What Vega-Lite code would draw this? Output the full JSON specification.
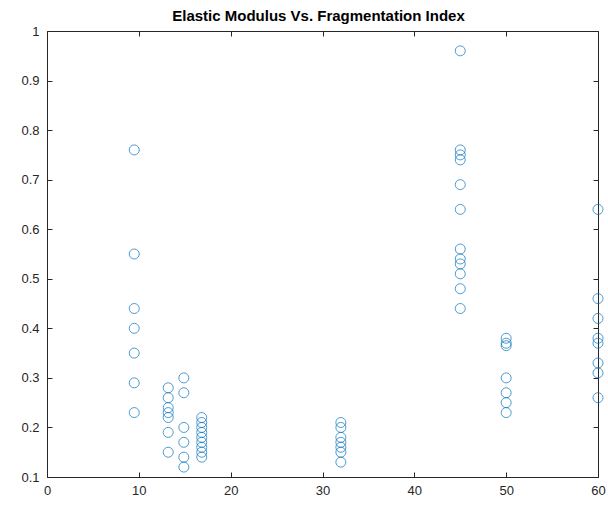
{
  "$schema": "https://vega.github.io/schema/vega-lite/v6.json",
  "autosize": {"type": "none"},
  "width": 551,
  "height": 446,
  "padding": {"left": 47, "top": 31, "right": 10, "bottom": 30},
  "background": "white",
  "title": {
    "text": "Elastic Modulus Vs. Fragmentation Index",
    "font": "Liberation Sans",
    "fontSize": 15,
    "fontWeight": "bold",
    "color": "#000000",
    "anchor": "middle",
    "offset": 1,
    "dx": -4
  },
  "config": {
    "view": {"stroke": null},
    "axis": {
      "domainColor": "#262626",
      "tickColor": "#262626",
      "labelColor": "#262626",
      "labelFont": "Liberation Sans",
      "labelFontSize": 13,
      "labelFlush": false,
      "grid": false,
      "title": null,
      "tickSize": -5,
      "domainWidth": 1,
      "tickWidth": 1
    }
  },
  "data": {
    "values": [
      {"fi": 9.5, "em": 0.76}, {"fi": 9.5, "em": 0.55}, {"fi": 9.5, "em": 0.44}, {"fi": 9.5, "em": 0.40},
      {"fi": 9.5, "em": 0.35}, {"fi": 9.5, "em": 0.29}, {"fi": 9.5, "em": 0.23},
      {"fi": 13.2, "em": 0.28}, {"fi": 13.2, "em": 0.26}, {"fi": 13.2, "em": 0.24}, {"fi": 13.2, "em": 0.23},
      {"fi": 13.2, "em": 0.22}, {"fi": 13.2, "em": 0.19}, {"fi": 13.2, "em": 0.15},
      {"fi": 14.9, "em": 0.30}, {"fi": 14.9, "em": 0.27}, {"fi": 14.9, "em": 0.20}, {"fi": 14.9, "em": 0.17},
      {"fi": 14.9, "em": 0.14}, {"fi": 14.9, "em": 0.12},
      {"fi": 16.85, "em": 0.22}, {"fi": 16.85, "em": 0.21}, {"fi": 16.85, "em": 0.20}, {"fi": 16.85, "em": 0.19},
      {"fi": 16.85, "em": 0.18}, {"fi": 16.85, "em": 0.17}, {"fi": 16.85, "em": 0.16}, {"fi": 16.85, "em": 0.15},
      {"fi": 16.85, "em": 0.14},
      {"fi": 32.0, "em": 0.21}, {"fi": 32.0, "em": 0.20}, {"fi": 32.0, "em": 0.18}, {"fi": 32.0, "em": 0.17},
      {"fi": 32.0, "em": 0.16}, {"fi": 32.0, "em": 0.15}, {"fi": 32.0, "em": 0.13},
      {"fi": 45.0, "em": 0.96}, {"fi": 45.0, "em": 0.76}, {"fi": 45.0, "em": 0.75}, {"fi": 45.0, "em": 0.74},
      {"fi": 45.0, "em": 0.69}, {"fi": 45.0, "em": 0.64}, {"fi": 45.0, "em": 0.56}, {"fi": 45.0, "em": 0.54},
      {"fi": 45.0, "em": 0.53}, {"fi": 45.0, "em": 0.51}, {"fi": 45.0, "em": 0.48}, {"fi": 45.0, "em": 0.44},
      {"fi": 50.0, "em": 0.38}, {"fi": 50.0, "em": 0.37}, {"fi": 50.0, "em": 0.365}, {"fi": 50.0, "em": 0.30},
      {"fi": 50.0, "em": 0.27}, {"fi": 50.0, "em": 0.25}, {"fi": 50.0, "em": 0.23},
      {"fi": 60.0, "em": 0.64}, {"fi": 60.0, "em": 0.46}, {"fi": 60.0, "em": 0.42}, {"fi": 60.0, "em": 0.38},
      {"fi": 60.0, "em": 0.37}, {"fi": 60.0, "em": 0.33}, {"fi": 60.0, "em": 0.31}, {"fi": 60.0, "em": 0.26}
    ]
  },
  "layer": [
    {
      "mark": {"type": "point", "shape": "circle", "filled": false, "color": "#0072BD", "strokeWidth": 1, "size": 100, "clip": false},
      "encoding": {
        "x": {
          "field": "fi", "type": "quantitative",
          "scale": {"domain": [0, 60], "nice": false, "zero": false},
          "axis": {"orient": "bottom", "values": [0, 10, 20, 30, 40, 50, 60], "labelPadding": 12}
        },
        "y": {
          "field": "em", "type": "quantitative",
          "scale": {"domain": [0.1, 1], "nice": false, "zero": false},
          "axis": {"orient": "left", "values": [0.1, 0.2, 0.3, 0.4, 0.5, 0.6, 0.7, 0.8, 0.9, 1], "labelPadding": 13, "format": "~g"}
        }
      }
    },
    {
      "mark": {"type": "point", "opacity": 0},
      "encoding": {
        "x": {
          "field": "fi", "type": "quantitative",
          "scale": {"domain": [0, 60], "nice": false, "zero": false},
          "axis": {"orient": "top", "values": [0, 10, 20, 30, 40, 50, 60], "labels": false}
        },
        "y": {
          "field": "em", "type": "quantitative",
          "scale": {"domain": [0.1, 1], "nice": false, "zero": false},
          "axis": {"orient": "right", "values": [0.1, 0.2, 0.3, 0.4, 0.5, 0.6, 0.7, 0.8, 0.9, 1], "labels": false}
        }
      }
    }
  ],
  "resolve": {"axis": {"x": "independent", "y": "independent"}}
}
